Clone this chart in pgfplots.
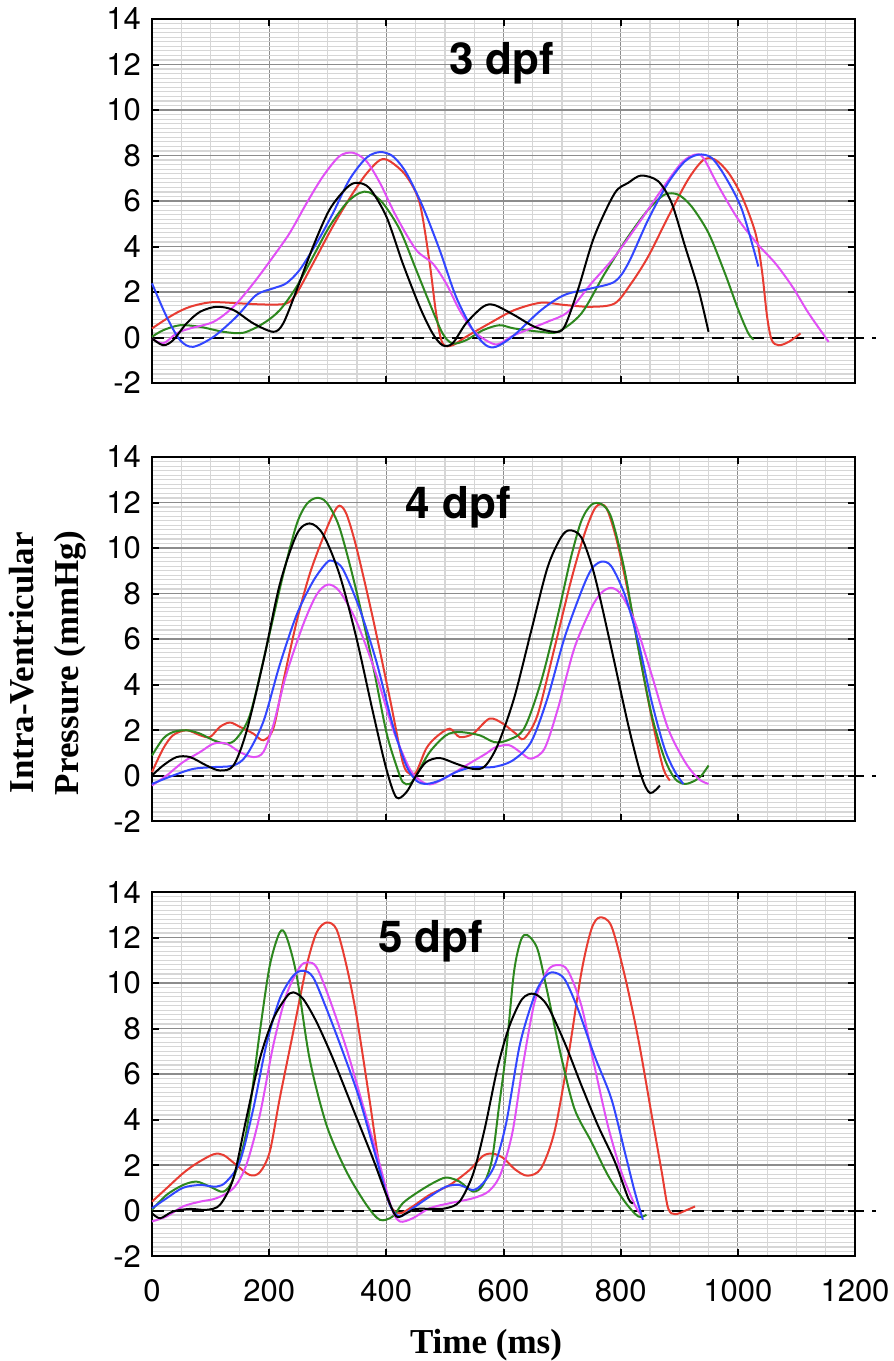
\documentclass[border=0pt]{standalone}
\usepackage{fontspec}
\setmainfont{TeX Gyre Heros}
\newfontfamily\timesfont{Liberation Serif}
\usepackage{pgfplots}
\pgfplotsset{compat=1.18}
\definecolor{cR}{RGB}{232,60,50}
\definecolor{cG}{RGB}{45,135,30}
\definecolor{cB}{RGB}{50,70,255}
\definecolor{cM}{RGB}{225,80,245}
\pgfplotsset{
 panel/.style={
  scale only axis, width=351.5pt, height=182pt,
  xmin=0,xmax=1200,ymin=-2,ymax=14,
  xtick={0,200,...,1200}, ytick={-2,0,...,14},
  yticklabels={-2,0,2,4,6,8,10,12,14},
  minor x tick num=3, minor y tick num=9,
  grid=both,
  major grid style={black!45, line width=0.6pt},
  minor grid style={black!16, line width=0.6pt},
  axis line style={line width=1.2pt},
  major tick length=3.5pt, minor tick length=0pt,
  tick style={black, line width=1pt},
  tick align=inside,
  ticklabel style={font=\fontsize{15.5}{18}\selectfont},
  yticklabel style={xshift=-2pt},
  xticklabel style={yshift=-8pt},
  clip=false,
  anchor=north west,
 },
 cv/.style={line width=1pt, smooth, tension=0.5},
 zl/.style={black, line width=1pt, dash pattern=on 6pt off 4pt, sharp plot},
}
\begin{document}
\begin{tikzpicture}
\useasboundingbox (0,0) rectangle (447pt,-680.5pt);
% ---------------- 3 dpf
\begin{axis}[panel, at={(76pt,-9.5pt)}, xticklabels={}]
\addplot[zl] coordinates {(0,0)(1235,0)};
\addplot[cv,cR] coordinates {(0,0.4)(36,1.0)(65,1.35)(102,1.55)(150,1.5)(195,1.45)(230,1.5)(247,1.95)(275,3.26)(309,4.9)(343,6.35)(366,7.2)(389,7.8)(406,7.75)(434,7.1)(457,5.9)(474,3.26)(485,1.06)(496,-0.26)(513,-0.34)(536,0.03)(576,0.62)(618,1.2)(664,1.53)(704,1.43)(750,1.35)(790,1.5)(818,2.38)(847,3.56)(881,5.3)(915,6.94)(941,7.8)(961,7.82)(984,7.24)(1007,6.2)(1030,4.6)(1041,2.97)(1050,0.91)(1058,-0.12)(1070,-0.34)(1087,-0.19)(1107,0.18)};
\addplot[cv,cG] coordinates {(0,0.03)(19,0.32)(48,0.54)(82,0.47)(122,0.25)(156,0.21)(190,0.62)(218,1.2)(247,2.24)(275,3.56)(303,4.88)(332,5.91)(354,6.35)(371,6.38)(394,5.91)(423,4.74)(451,2.97)(474,1.5)(496,0.18)(513,-0.26)(536,-0.12)(565,0.32)(593,0.54)(618,0.4)(664,0.25)(693,0.25)(733,1.06)(773,2.82)(813,4.44)(847,5.62)(875,6.28)(898,6.28)(921,5.76)(950,4.59)(978,2.82)(1001,1.2)(1018,0.18)(1027,-0.09)};
\addplot[cv,cM] coordinates {(0,-0.04)(19,-0.26)(42,0.18)(65,0.4)(105,0.69)(139,1.35)(173,2.38)(207,3.56)(235,4.59)(264,5.91)(292,7.09)(320,7.97)(343,8.12)(366,7.75)(389,6.8)(417,5.32)(451,3.85)(479,3.26)(502,2.38)(525,1.2)(548,0.32)(570,-0.12)(590,-0.3)(618,0.1)(675,0.69)(710,1.13)(750,2.38)(790,3.56)(835,5.18)(870,6.5)(904,7.68)(927,8.04)(941,7.9)(967,6.65)(1001,5.18)(1035,4.07)(1064,3.26)(1093,2.24)(1121,1.06)(1155,-0.19)};
\addplot[cv,cB] coordinates {(0,2.38)(25,0.91)(48,-0.12)(70,-0.41)(105,0.03)(144,0.91)(178,1.87)(207,2.16)(229,2.38)(252,2.97)(281,4.15)(309,5.47)(337,6.94)(366,7.9)(389,8.15)(411,7.97)(434,7.24)(462,5.76)(491,3.85)(519,1.79)(548,0.32)(570,-0.34)(588,-0.4)(618,0.1)(664,1.2)(704,1.87)(750,2.16)(790,2.46)(813,3.26)(847,5.18)(881,6.8)(910,7.75)(933,8.04)(955,7.9)(978,7.09)(1007,5.62)(1035,3.12)};
\addplot[cv,black] coordinates {(0,-0.04)(19,-0.34)(36,-0.12)(59,0.62)(82,1.13)(110,1.35)(139,1.21)(173,0.62)(207,0.25)(224,0.62)(247,2.09)(275,4.0)(303,5.62)(332,6.57)(349,6.8)(371,6.57)(400,5.32)(428,3.26)(457,1.35)(479,0.18)(496,-0.34)(513,-0.26)(536,0.62)(565,1.35)(584,1.43)(618,0.99)(653,0.47)(687,0.25)(704,0.47)(727,2.09)(755,4.44)(790,6.35)(813,6.8)(835,7.12)(864,6.87)(887,5.91)(910,4.0)(933,2.09)(950,0.25)};
\node[font=\fontsize{22}{26}\selectfont\bfseries, anchor=base] at (axis cs:597,11.54) {3 dpf};
\end{axis}
% ---------------- 4 dpf
\begin{axis}[panel, at={(76pt,-228.5pt)}, xticklabels={}]
\addplot[zl] coordinates {(0,0)(1235,0)};
\addplot[cv,cR] coordinates {(0,0.15)(19,1.18)(36,1.77)(59,1.99)(82,1.77)(99,1.69)(116,2.14)(133,2.33)(150,2.14)(173,1.84)(190,1.55)(207,2.06)(224,4.12)(247,6.77)(269,8.84)(292,10.46)(309,11.49)(320,11.86)(332,11.49)(349,10.02)(377,6.92)(406,3.39)(428,0.59)(440,0.07)(451,0.15)(468,1.18)(485,1.69)(508,2.06)(525,1.69)(548,1.84)(576,2.5)(599,2.28)(621,1.84)(635,1.62)(658,2.65)(687,5.6)(715,8.54)(738,10.6)(755,11.7)(767,11.93)(778,11.63)(795,10.16)(818,7.36)(841,4.12)(858,1.91)(873,0.29)(884,-0.22)};
\addplot[cv,cG] coordinates {(0,0.88)(19,1.62)(36,1.91)(59,1.99)(82,1.84)(105,1.55)(127,1.4)(144,1.62)(167,2.65)(195,5.6)(224,8.84)(247,11.05)(264,11.93)(281,12.2)(298,12.0)(320,10.9)(349,8.1)(377,4.86)(400,1.91)(417,0.44)(428,-0.29)(440,-0.37)(451,0)(474,1.03)(502,1.77)(525,1.91)(559,1.77)(584,1.47)(607,1.55)(635,2.06)(664,4.12)(693,7.07)(715,9.57)(733,11.2)(750,11.9)(767,11.93)(784,11.34)(807,8.98)(830,5.6)(853,2.65)(875,0.74)(893,-0.15)(910,-0.37)(927,-0.22)(938,0)(950,0.44)};
\addplot[cv,cM] coordinates {(0,-0.44)(25,0)(53,0.59)(82,1.03)(105,1.4)(127,1.4)(150,1.03)(173,0.81)(190,1.03)(207,2.21)(229,4.42)(258,6.63)(281,7.95)(300,8.39)(320,8.1)(349,6.77)(383,4.42)(411,2.06)(440,0.29)(462,-0.29)(479,-0.37)(508,0)(536,0.44)(570,0.96)(587,1.25)(610,1.33)(630,1.0)(647,0.74)(670,1.18)(693,2.95)(721,5.6)(750,7.36)(767,8.03)(784,8.25)(801,7.95)(824,6.77)(853,4.42)(881,2.06)(910,0.59)(933,-0.15)(950,-0.37)};
\addplot[cv,cB] coordinates {(0,-0.37)(36,0)(70,0.29)(105,0.37)(139,0.44)(161,0.88)(190,2.36)(218,4.86)(247,7.07)(275,8.54)(298,9.35)(309,9.43)(326,9.06)(354,7.36)(383,5.01)(411,2.21)(434,0.44)(451,-0.22)(468,-0.37)(491,-0.22)(519,0.15)(548,0.37)(582,0.37)(615,0.65)(647,1.47)(675,3.39)(704,6.04)(733,8.1)(750,9.06)(767,9.4)(784,9.2)(807,7.95)(830,5.89)(853,3.24)(875,1.18)(893,0.15)(907,-0.37)};
\addplot[cv,black] coordinates {(0,0)(19,0.44)(42,0.81)(65,0.81)(93,0.44)(116,0.22)(139,0.44)(161,1.91)(190,5.01)(218,8.39)(247,10.6)(269,11.08)(292,10.6)(320,8.84)(349,6.04)(377,2.8)(400,0.29)(417,-0.96)(434,-0.74)(451,0)(468,0.59)(491,0.77)(519,0.52)(548,0.29)(568,0.4)(590,1.33)(618,3.39)(647,6.33)(675,9.13)(698,10.46)(713,10.78)(733,10.46)(755,8.84)(784,5.6)(813,2.21)(835,0)(850,-0.77)(867,-0.44)};
\node[font=\fontsize{22}{26}\selectfont\bfseries, anchor=base] at (axis cs:523,11.3) {4 dpf};
\end{axis}
% ---------------- 5 dpf
\begin{axis}[panel, at={(76pt,-446pt)}, xticklabels={0,200,400,600,800,1000,1200}]
\addplot[zl] coordinates {(0,0)(1235,0)};
\addplot[cv,cR] coordinates {(0,0.39)(25,0.98)(53,1.64)(76,2.07)(105,2.47)(122,2.44)(144,2.0)(167,1.56)(184,1.68)(201,2.58)(218,4.92)(241,7.84)(264,10.76)(281,12.22)(298,12.66)(315,12.36)(332,10.76)(349,8.57)(371,4.92)(389,1.85)(406,0.25)(423,-0.12)(445,0.18)(474,0.69)(508,1.12)(542,1.78)(565,2.4)(582,2.5)(600,2.3)(620,1.8)(641,1.53)(664,1.85)(687,3.46)(710,6.67)(733,10.47)(750,12.36)(764,12.88)(784,12.51)(807,10.32)(830,7.55)(853,4.19)(870,1.71)(881,0.1)(893,-0.16)(910,-0.01)(927,0.18)};
\addplot[cv,cG] coordinates {(0,0.03)(25,0.69)(53,1.12)(76,1.27)(99,1.05)(122,0.83)(139,1.42)(161,3.46)(184,7.84)(201,10.76)(218,12.22)(229,12.07)(247,10.32)(269,6.67)(298,3.75)(332,1.71)(366,0.25)(389,-0.41)(411,-0.26)(428,0.32)(451,0.76)(479,1.2)(502,1.45)(525,1.27)(548,0.83)(565,1.12)(580,2.2)(592,4.5)(605,7.11)(618,10.5)(630,11.9)(641,12.1)(658,11.49)(675,9.59)(698,6.82)(721,4.48)(750,3.02)(778,1.56)(807,0.39)(830,-0.26)(844,-0.19)};
\addplot[cv,cM] coordinates {(0,-0.48)(25,-0.26)(53,0.18)(82,0.39)(110,0.54)(139,0.98)(161,2.0)(184,4.19)(207,7.26)(229,9.45)(252,10.69)(266,10.91)(281,10.69)(303,9.3)(332,7.11)(360,4.63)(389,2.0)(409,0.1)(423,-0.48)(445,-0.34)(474,0.1)(508,0.32)(548,0.54)(575,0.85)(595,1.6)(615,3.4)(632,6.2)(653,9.15)(675,10.54)(693,10.79)(710,10.54)(733,9.0)(755,6.38)(778,3.75)(801,1.71)(824,0.25)(835,-0.19)};
\addplot[cv,cB] coordinates {(0,0.1)(25,0.54)(53,1.0)(82,1.12)(110,1.05)(127,1.27)(150,2.15)(173,4.48)(195,7.26)(218,9.3)(241,10.32)(258,10.54)(275,10.25)(298,8.86)(326,6.96)(354,4.92)(383,2.29)(406,0.25)(423,-0.26)(445,0.1)(474,0.61)(502,1.05)(525,1.12)(548,0.9)(565,1.2)(585,2.0)(605,3.9)(628,7.3)(653,9.45)(670,10.25)(684,10.47)(704,10.18)(727,8.86)(755,6.82)(784,4.92)(807,2.58)(824,0.83)(838,-0.41)};
\addplot[cv,black] coordinates {(0,-0.12)(14,-0.34)(36,-0.04)(65,0.07)(93,0.03)(116,0.25)(139,1.42)(161,4.04)(184,6.67)(207,8.42)(229,9.37)(241,9.59)(258,9.3)(281,8.28)(309,6.67)(343,4.48)(377,2.29)(400,0.69)(417,-0.26)(434,-0.12)(451,0.07)(479,0.07)(502,0.1)(525,0.39)(548,1.6)(568,3.6)(590,6.3)(610,8.1)(632,9.3)(653,9.52)(675,9.0)(704,7.4)(733,5.5)(761,3.75)(790,2.15)(813,0.54)(821,0.32)};
\node[font=\fontsize{22}{26}\selectfont\bfseries, anchor=base] at (axis cs:476,11.36) {5 dpf};
\end{axis}
% ---------------- labels
\node[rotate=90, align=center, font=\timesfont\bfseries\fontsize{17.5}{22.5}\selectfont] at (24pt,-331.5pt) {Intra-Ventricular\\Pressure (mmHg)};
\node[anchor=base, font=\timesfont\bfseries\fontsize{17.5}{21}\selectfont] at (243pt,-676.5pt) {Time (ms)};
\end{tikzpicture}
\end{document}
